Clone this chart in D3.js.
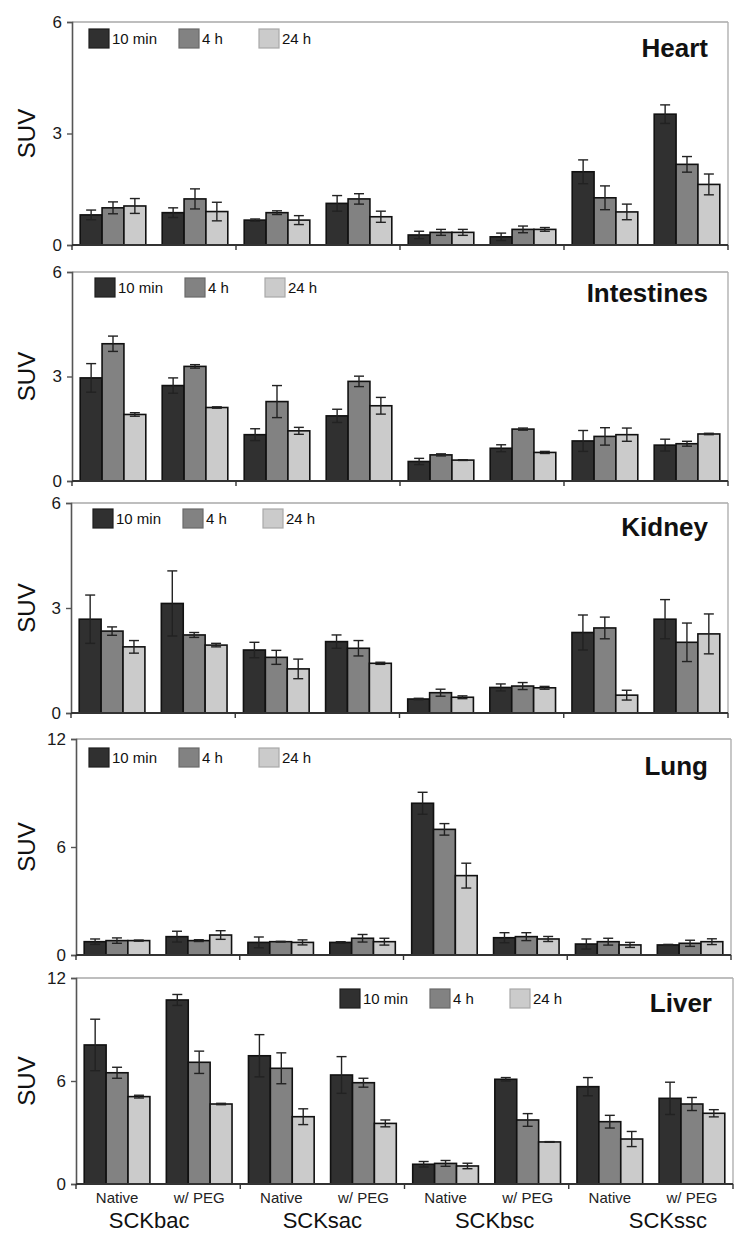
<!DOCTYPE html>
<html><head><meta charset="utf-8">
<script src="https://cdn.jsdelivr.net/npm/d3@7"></script>
<style>html,body{margin:0;padding:0;background:#fff;}svg{display:block;font-family:"Liberation Sans",Arial,sans-serif;}</style>
</head><body>
<script>
// ---------- DATA ----------
const categories = ["SCKbac|Native","SCKbac|w/ PEG","SCKsac|Native","SCKsac|w/ PEG","SCKbsc|Native","SCKbsc|w/ PEG","SCKssc|Native","SCKssc|w/ PEG"];
const groups = ["SCKbac","SCKsac","SCKbsc","SCKssc"];
const subLabels = ["Native","w/ PEG","Native","w/ PEG","Native","w/ PEG","Native","w/ PEG"];
const series = ["10 min","4 h","24 h"];
const organs = ["Heart","Intestines","Kidney","Lung","Liver"];
const yMaxes = [6,6,6,12,12];
const yTicksSmall = [0,3,6];
const yTicksLarge = [0,6,12];

// means: [10 min], [4 h], [24 h]
const heartMeans = [[0.81,0.87,0.67,1.12,0.27,0.22,1.97,3.52],[1.00,1.24,0.87,1.24,0.34,0.42,1.27,2.17],[1.05,0.90,0.67,0.76,0.34,0.42,0.89,1.63]];
const heartErrs  = [[0.13,0.13,0.03,0.21,0.10,0.10,0.32,0.25],[0.16,0.27,0.05,0.14,0.08,0.09,0.32,0.21],[0.20,0.25,0.12,0.15,0.08,0.05,0.21,0.28]];
const intestMeans = [[2.96,2.74,1.33,1.87,0.56,0.94,1.15,1.03],[3.94,3.29,2.28,2.86,0.75,1.49,1.28,1.07],[1.91,2.11,1.44,2.16,0.60,0.82,1.33,1.35]];
const intestErrs  = [[0.41,0.22,0.17,0.19,0.09,0.10,0.30,0.17],[0.22,0.05,0.46,0.15,0.03,0.03,0.25,0.07],[0.05,0.02,0.10,0.24,0.01,0.03,0.19,0.02]];
const kidneyMeans = [[2.68,3.13,1.80,2.04,0.40,0.73,2.30,2.68],[2.34,2.23,1.59,1.85,0.58,0.77,2.43,2.02],[1.89,1.94,1.26,1.42,0.45,0.72,0.51,2.26]];
const kidneyErrs  = [[0.69,0.93,0.22,0.19,0.02,0.10,0.50,0.56],[0.12,0.07,0.20,0.22,0.10,0.10,0.31,0.55],[0.18,0.05,0.28,0.03,0.04,0.04,0.14,0.57]];
const lungMeans = [[0.74,1.02,0.70,0.70,8.43,0.96,0.61,0.56],[0.80,0.80,0.74,0.93,6.98,1.02,0.74,0.65],[0.80,1.11,0.70,0.74,4.41,0.89,0.56,0.74]];
const lungErrs  = [[0.15,0.30,0.30,0.04,0.61,0.28,0.28,0.03],[0.15,0.05,0.02,0.21,0.32,0.22,0.19,0.17],[0.03,0.24,0.14,0.19,0.69,0.14,0.14,0.16]];
const liverMeans = [[8.10,10.72,7.47,6.35,1.15,6.10,5.67,4.99],[6.48,7.09,6.74,5.90,1.20,3.73,3.63,4.66],[5.09,4.66,3.92,3.53,1.05,2.45,2.62,4.12]];
const liverErrs  = [[1.50,0.32,1.23,1.07,0.16,0.10,0.53,0.94],[0.32,0.65,0.90,0.26,0.17,0.37,0.37,0.38],[0.08,0.04,0.46,0.20,0.16,0.02,0.44,0.21]];

const allMeans = [heartMeans,intestMeans,kidneyMeans,lungMeans,liverMeans];
const allErrs = [heartErrs,intestErrs,kidneyErrs,lungErrs,liverErrs];

// ---------- LAYOUT ----------
const layout = [
  {top:22, bottom:245, left:72, right:728, legX:89, legY:29, titleY:57, titleX:708},
  {top:272, bottom:481, left:72, right:728, legX:95, legY:278, titleY:302, titleX:708},
  {top:503, bottom:713, left:71, right:728, legX:93, legY:509, titleY:536, titleX:708},
  {top:739, bottom:955, left:76, right:731, legX:89, legY:748, titleY:775, titleX:708},
  {top:978, bottom:1184, left:76, right:733, legX:340, legY:989, titleY:1012, titleX:712}
];
const groupLabelShift = [-9, 0, 8, 17];
const fills = ["#303030","#828282","#cbcbcb"];
const swatchStroke = ["#1e1e1e","#6a6a6a","#a9a9a9"];

const W = 750, H = 1243;
const svg = d3.select("body").append("svg").attr("width",W).attr("height",H);

organs.forEach((organ,pi)=>{
  const L = layout[pi];
  const g = svg.append("g");
  const x = d3.scaleBand().domain(categories).range([L.left,L.right]).paddingInner(0.2).paddingOuter(0.1);
  const xs = d3.scaleBand().domain(series).range([0,x.bandwidth()]).padding(0);
  const y = d3.scaleLinear().domain([0,yMaxes[pi]]).range([L.bottom,L.top]);
  const ticks = yMaxes[pi]===6 ? yTicksSmall : yTicksLarge;

  // frame top/right
  g.append("line").attr("x1",L.left).attr("x2",L.right).attr("y1",L.top).attr("y2",L.top).attr("stroke","#a8a8a8").attr("stroke-width",1.6);
  g.append("line").attr("x1",L.right).attr("x2",L.right).attr("y1",L.top).attr("y2",L.bottom).attr("stroke","#b0b0b0").attr("stroke-width",1.4);

  // y axis
  const ya = d3.axisLeft(y).tickValues(ticks).tickSize(5).tickPadding(5).tickFormat(d3.format("d"));
  const yg = g.append("g").attr("transform",`translate(${L.left},0)`).call(ya);
  yg.select(".domain").attr("stroke","#555").attr("stroke-width",1.6);
  yg.selectAll(".tick line").attr("stroke","#555").attr("stroke-width",1.4);
  yg.selectAll(".tick text").attr("font-size",17).attr("fill","#1a1a1a").attr("font-family","Liberation Sans, Arial, sans-serif");

  // bars
  const flat = [];
  series.forEach((s,si)=>categories.forEach((c,ci)=>flat.push({c,s,si,v:allMeans[pi][si][ci],e:allErrs[pi][si][ci]})));
  g.selectAll("rect.bar").data(flat).enter().append("rect").attr("class","bar")
    .attr("x",d=>x(d.c)+xs(d.s)).attr("width",xs.bandwidth())
    .attr("y",d=>y(d.v)).attr("height",d=>y(0)-y(d.v))
    .attr("fill",d=>fills[d.si]).attr("stroke","#111").attr("stroke-width",1.6);

  // error bars
  const eg = g.selectAll("g.err").data(flat).enter().append("g").attr("class","err")
    .attr("transform",d=>`translate(${x(d.c)+xs(d.s)+xs.bandwidth()/2},0)`);
  eg.append("line").attr("y1",d=>y(d.v+d.e)).attr("y2",d=>y(d.v-d.e)).attr("stroke","#222").attr("stroke-width",1.4);
  eg.append("line").attr("x1",-5).attr("x2",5).attr("y1",d=>y(d.v+d.e)).attr("y2",d=>y(d.v+d.e)).attr("stroke","#222").attr("stroke-width",1.4);
  eg.append("line").attr("x1",-5).attr("x2",5).attr("y1",d=>y(d.v-d.e)).attr("y2",d=>y(d.v-d.e)).attr("stroke","#222").attr("stroke-width",1.4);

  // x axis baseline with group ticks
  g.append("line").attr("x1",L.left).attr("x2",L.right).attr("y1",L.bottom).attr("y2",L.bottom).attr("stroke","#333").attr("stroke-width",1.8);
  const gw = (L.right-L.left)/groups.length;
  d3.range(groups.length+1).forEach(k=>{
    g.append("line").attr("x1",L.left+k*gw).attr("x2",L.left+k*gw).attr("y1",L.bottom).attr("y2",L.bottom+5).attr("stroke","#333").attr("stroke-width",1.4);
  });

  // SUV label
  g.append("text").attr("transform",`translate(35,${(L.top+L.bottom)/2}) rotate(-90)`)
    .attr("text-anchor","middle").attr("font-size",24).attr("fill","#111").text("SUV");

  // title
  g.append("text").attr("x",L.titleX).attr("y",L.titleY).attr("text-anchor","end")
    .attr("font-size",26).attr("font-weight","bold").attr("fill","#111").text(organ);

  // legend
  const offs = [0,90,170];
  series.forEach((s,si)=>{
    g.append("rect").attr("x",L.legX+offs[si]).attr("y",L.legY).attr("width",20).attr("height",19)
      .attr("fill",fills[si]).attr("stroke",swatchStroke[si]).attr("stroke-width",1.2);
    g.append("text").attr("x",L.legX+offs[si]+23).attr("y",L.legY+15).attr("font-size",15).attr("fill","#111").text(s);
  });

  // bottom labels on last panel
  if(pi===organs.length-1){
    categories.forEach((c,ci)=>{
      g.append("text").attr("x",x(c)+x.bandwidth()/2).attr("y",L.bottom+19).attr("text-anchor","middle")
        .attr("font-size",15).attr("fill","#222").text(subLabels[ci]);
    });
    groups.forEach((gr,gi)=>{
      g.append("text").attr("x",L.left+gw*(gi+0.5)+groupLabelShift[gi]).attr("y",L.bottom+44).attr("text-anchor","middle")
        .attr("font-size",22).attr("fill","#111").text(gr);
    });
  }
});
</script>
</body></html>
